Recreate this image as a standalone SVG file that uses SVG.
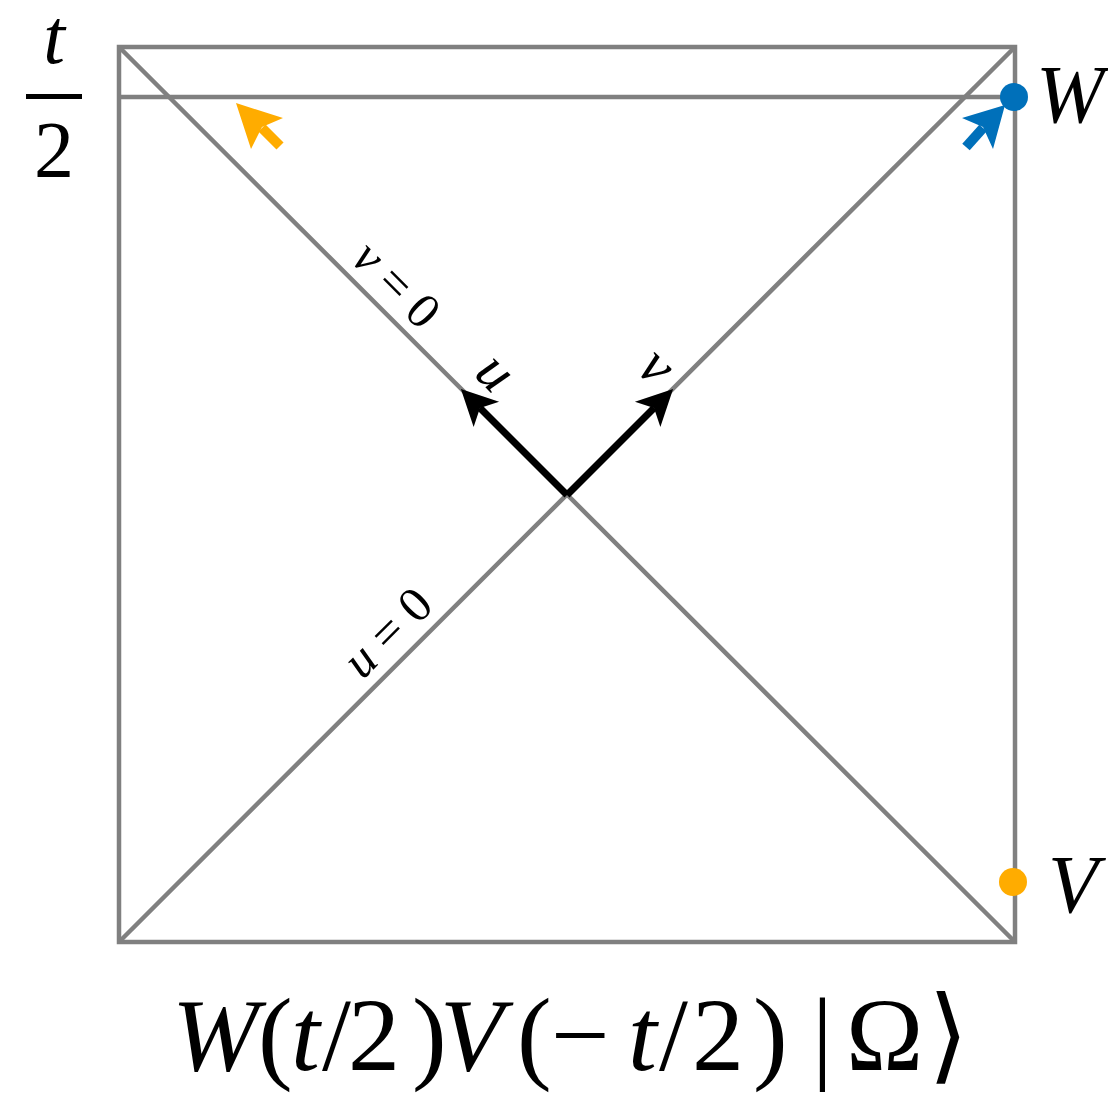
<svg xmlns="http://www.w3.org/2000/svg" width="1108" height="1095" viewBox="0 0 1108 1095">
<style>
.frame{fill:none;stroke:#808080;stroke-width:4.5}
.ser{font-family:"Liberation Serif","DejaVu Serif",serif;fill:#000}
.it{font-style:italic}
.up{font-style:normal}
</style>
<defs>
<marker id="ah" markerUnits="userSpaceOnUse" markerWidth="70" markerHeight="70" viewBox="-25 -35 70 70" refX="0" refY="0" orient="auto">
<path d="M27,0 L-9,-18 L0,0 L-9,18 Z" fill="#000"/>
</marker>
</defs>
<rect width="1108" height="1095" fill="#fff"/>
<g id="connectors">
<rect class="frame" x="119" y="47" width="896" height="895"/>
<line class="frame" x1="119" y1="97" x2="1015" y2="97"/>
<line class="frame" x1="119" y1="47" x2="1015" y2="942"/>
<line class="frame" x1="119" y1="942" x2="1015" y2="47"/>
<line x1="567" y1="495" x2="480" y2="408" stroke="#000" stroke-width="7" marker-end="url(#ah)"/>
<line x1="567" y1="495" x2="654" y2="408" stroke="#000" stroke-width="7" marker-end="url(#ah)"/>
</g>
<g id="orange-arrow">
<line x1="280" y1="146" x2="262" y2="128" stroke="#FFAC00" stroke-width="10"/>
<path d="M236,103 L283,118 L262,127 L251,149 Z" fill="#FFAC00"/>
</g>
<g id="blue-arrow">
<line x1="966" y1="147" x2="983" y2="128" stroke="#0070BA" stroke-width="10"/>
<path d="M1005,105 L962,118 L983,127 L993,149 Z" fill="#0070BA"/>
</g>
<g id="W-node">
<circle cx="1014" cy="97" r="14" fill="#0070BA"/>
<text class="ser it" x="1036" y="122" font-size="82">W</text>
</g>
<g id="V-node">
<circle cx="1013" cy="882" r="14" fill="#FFAC00"/>
<text class="ser it" x="1048" y="912" font-size="82">V</text>
</g>
<g id="t-half">
<text class="ser it" x="54" y="63" font-size="78" text-anchor="middle">t</text>
<rect x="26" y="94" width="56" height="5" fill="#000"/>
<text class="ser" x="54" y="177" font-size="80" text-anchor="middle">2</text>
</g>
<g id="labels">
<text class="ser it" font-size="50" text-anchor="middle" transform="translate(385,296) rotate(45)">v <tspan class="up">= 0</tspan></text>
<text class="ser it" font-size="50" text-anchor="middle" transform="translate(399,644) rotate(-45)">u <tspan class="up">= 0</tspan></text>
<text class="ser it" font-size="58" text-anchor="middle" transform="translate(483,385) rotate(45)">u</text>
<text class="ser it" font-size="58" text-anchor="middle" transform="translate(644,379) rotate(45)">v</text>
</g>
<g id="state">
<text class="ser" y="1070" font-size="104"><tspan class="it" x="172">W</tspan><tspan x="258">(</tspan><tspan class="it" x="291">t</tspan><tspan x="322">/</tspan><tspan x="348">2</tspan><tspan x="412">)</tspan><tspan class="it" x="440">V</tspan><tspan x="517">(</tspan><tspan x="551">−</tspan><tspan class="it" x="628">t</tspan><tspan x="659">/</tspan><tspan x="692">2</tspan><tspan x="753">)</tspan><tspan x="812">|</tspan><tspan x="846">Ω</tspan><tspan x="928">⟩</tspan></text>
</g>
</svg>
